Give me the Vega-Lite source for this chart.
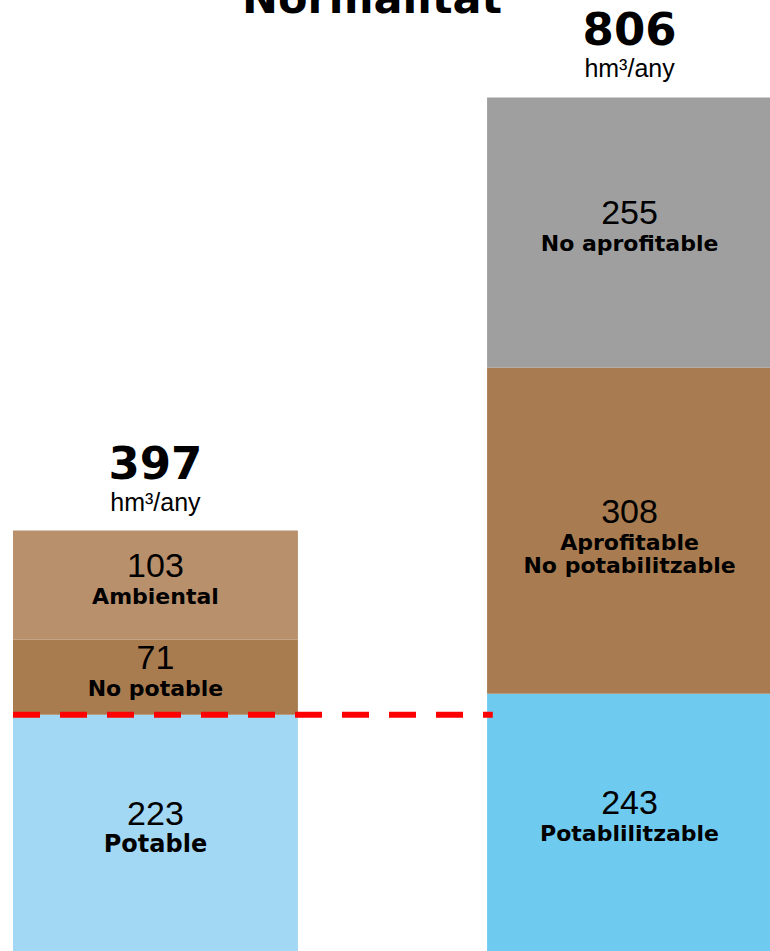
{
  "$schema": "https://vega.github.io/schema/vega-lite/v6.json",
  "width": 770,
  "height": 951,
  "padding": 0,
  "autosize": {"type": "none"},
  "background": "white",
  "config": {"view": {"stroke": null}},
  "data": {
    "values": [
      {"bar": "Actual", "segment": "Potable", "label": "Potable", "value": 223, "order": 1},
      {"bar": "Actual", "segment": "No potable", "label": "No potable", "value": 71, "order": 2},
      {"bar": "Actual", "segment": "Ambiental", "label": "Ambiental", "value": 103, "order": 3},
      {"bar": "Potencial", "segment": "Potablilitzable", "label": "Potablilitzable", "value": 243, "order": 1},
      {"bar": "Potencial", "segment": "Aprofitable", "label": "Aprofitable\nNo potabilitzable", "value": 308, "order": 2},
      {"bar": "Potencial", "segment": "No aprofitable", "label": "No aprofitable", "value": 255, "order": 3}
    ]
  },
  "transform": [
    {"stack": "value", "groupby": ["bar"], "sort": [{"field": "order"}], "as": ["y0", "y1"]},
    {"calculate": "(datum.y0 + datum.y1) / 2", "as": "mid"}
  ],
  "encoding": {
    "x": {
      "field": "bar",
      "type": "nominal",
      "axis": null,
      "sort": ["Actual", "Potencial"],
      "scale": {"type": "band", "range": [13, 772], "paddingInner": 0.399, "paddingOuter": 0}
    }
  },
  "layer": [
    {
      "mark": {"type": "bar"},
      "encoding": {
        "y": {"field": "y0", "type": "quantitative", "axis": null, "scale": {"domain": [0, 898], "nice": false, "zero": true}},
        "y2": {"field": "y1"},
        "color": {
          "field": "segment",
          "type": "nominal",
          "legend": null,
          "scale": {
            "domain": ["Potable", "No potable", "Ambiental", "Potablilitzable", "Aprofitable", "No aprofitable"],
            "range": ["#a3d8f5", "#a97c50", "#b9906c", "#6fcaf0", "#a87c50", "#9f9f9f"]
          }
        }
      }
    },
    {
      "mark": {"type": "text", "font": "Liberation Sans", "fontSize": 34, "baseline": "middle", "dy": -18, "color": "black"},
      "encoding": {
        "y": {"field": "mid", "type": "quantitative"},
        "text": {"field": "value", "type": "quantitative"}
      }
    },
    {
      "transform": [{"filter": "datum.segment != 'Potable'"}],
      "mark": {"type": "text", "font": "DejaVu Sans", "fontWeight": "bold", "fontSize": 22, "baseline": "middle", "dy": 12, "lineHeight": 23, "lineBreak": "\n", "color": "black"},
      "encoding": {
        "y": {"field": "mid", "type": "quantitative"},
        "text": {"field": "label", "type": "nominal"}
      }
    },
    {
      "transform": [{"filter": "datum.segment == 'Potable'"}],
      "mark": {"type": "text", "font": "DejaVu Sans", "fontWeight": "bold", "fontSize": 24, "baseline": "middle", "dy": 12, "color": "black"},
      "encoding": {
        "y": {"field": "mid", "type": "quantitative"},
        "text": {"field": "label", "type": "nominal"}
      }
    },
    {
      "transform": [{"aggregate": [{"op": "sum", "field": "value", "as": "total"}], "groupby": ["bar"]}],
      "mark": {"type": "text", "font": "DejaVu Sans", "fontWeight": "bold", "fontSize": 45, "baseline": "middle", "dy": -66, "color": "black"},
      "encoding": {
        "y": {"field": "total", "type": "quantitative"},
        "text": {"field": "total", "type": "quantitative"}
      }
    },
    {
      "transform": [{"aggregate": [{"op": "sum", "field": "value", "as": "total"}], "groupby": ["bar"]}],
      "mark": {"type": "text", "font": "Liberation Sans", "fontSize": 25, "baseline": "middle", "dy": -28, "color": "black"},
      "encoding": {
        "y": {"field": "total", "type": "quantitative"},
        "text": {"value": "hm³/any"}
      }
    },
    {
      "transform": [{"filter": "datum.segment == 'Potable'"}],
      "mark": {"type": "rule", "color": "#ff0000", "strokeWidth": 6, "strokeDash": [27, 20], "strokeCap": "butt"},
      "encoding": {
        "x": {"field": "bar", "type": "nominal", "bandPosition": 0},
        "x2": {"datum": "Potencial", "bandPosition": 0.02},
        "y": {"field": "value", "type": "quantitative"}
      }
    },
    {
      "transform": [{"filter": "datum.segment == 'Potable'"}],
      "mark": {"type": "text", "font": "DejaVu Sans", "fontWeight": "bold", "fontSize": 43, "baseline": "alphabetic", "align": "center", "dy": 13, "color": "black"},
      "encoding": {
        "x": {"datum": "Actual", "bandPosition": 1.26},
        "y": {"datum": 898, "type": "quantitative"},
        "text": {"value": "Normalitat"}
      }
    }
  ]
}
